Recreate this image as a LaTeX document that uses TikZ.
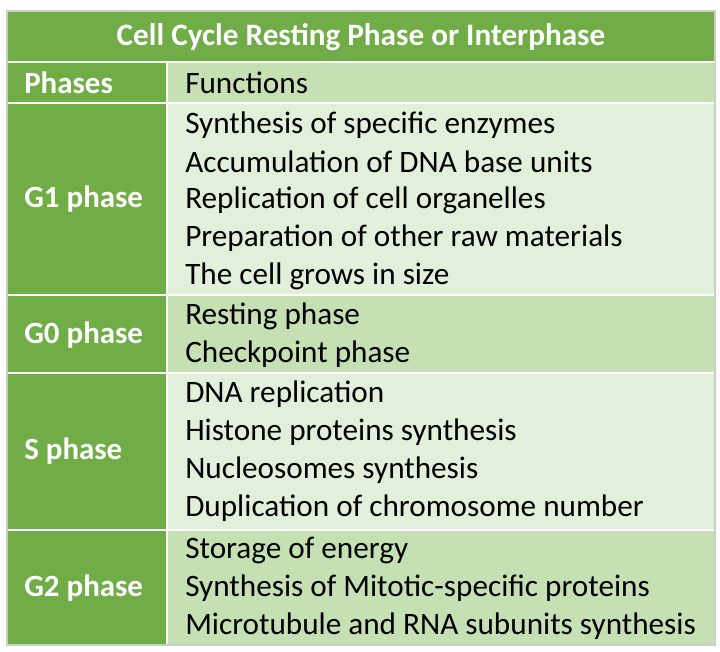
\documentclass[tikz,border=0pt]{standalone}
\usepackage{fontspec}
\setmainfont{Carlito}
\usepackage{tikz}
\usetikzlibrary{positioning}
\definecolor{darkg}{HTML}{70AD47}
\definecolor{midg}{HTML}{C5E0B3}
\definecolor{lightg}{HTML}{E2EFDA}

\begin{document}
\begin{tikzpicture}[x=0.75pt,y=-0.75pt]
\tikzstyle{cell} = [draw=white, line width=1.5pt];%
\tikzstyle{head} = [font=\fontsize{23.4}{28}\selectfont\bfseries, text=white, inner sep=0pt];%
\tikzstyle{phase} = [font=\fontsize{23.2}{28}\selectfont\bfseries, text=white, anchor=west, inner sep=0pt];%
\tikzstyle{item} = [font=\fontsize{23.4}{28}\selectfont, anchor=west, inner sep=0pt];%

\useasboundingbox (0,0) rectangle (720,652);

\fill[darkg] (7,11) rectangle (715,645);
\fill[midg] (167,62) rectangle (715,103);
\fill[lightg] (167,103) rectangle (715,295);
\fill[midg] (167,295) rectangle (715,373);
\fill[lightg] (167,373) rectangle (715,530);
\fill[midg] (167,530) rectangle (715,645);
\draw[cell] (7,62) -- (715,62);
\foreach \y in {103,295,373,530} \draw[cell] (7,\y) -- (715,\y);
\draw[cell] (167,62) -- (167,645);
\draw[gray!40, line width=0.8pt] (7,11) rectangle (715,645);

\node at (361,37) [head] (title) {Cell Cycle Resting Phase or Interphase};
\node at (24,83) [phase] (phases) {Phases};
\node at (185,83) [item] (functions) {Functions};

\node at (24,199) [phase] (g1) {G1 phase};
\node at (185,125) [item] (g1a) {Synthesis of specific enzymes};
\node at (185,162) [item] (g1b) {Accumulation of DNA base units};
\node at (185,200) [item] (g1c) {Replication of cell organelles};
\node at (185,238) [item] (g1d) {Preparation of other raw materials};
\node at (185,276) [item] (g1e) {The cell grows in size};

\node at (24,335) [phase] (g0) {G0 phase};
\node at (185,316) [item] (g0a) {Resting phase};
\node at (185,354) [item] (g0b) {Checkpoint phase};

\node at (24,451) [phase] (s) {S phase};
\node at (185,394) [item] (sa) {DNA replication};
\node at (185,432) [item] (sb) {Histone proteins synthesis};
\node at (185,470) [item] (sc) {Nucleosomes synthesis};
\node at (185,508) [item] (sd) {Duplication of chromosome number};

\node at (24,588) [phase] (g2) {G2 phase};
\node at (185,550) [item] (g2a) {Storage of energy};
\node at (185,588) [item] (g2b) {Synthesis of Mitotic-specific proteins};
\node at (185,626) [item] (g2c) {Microtubule and RNA subunits synthesis};
\end{tikzpicture}
\end{document}
